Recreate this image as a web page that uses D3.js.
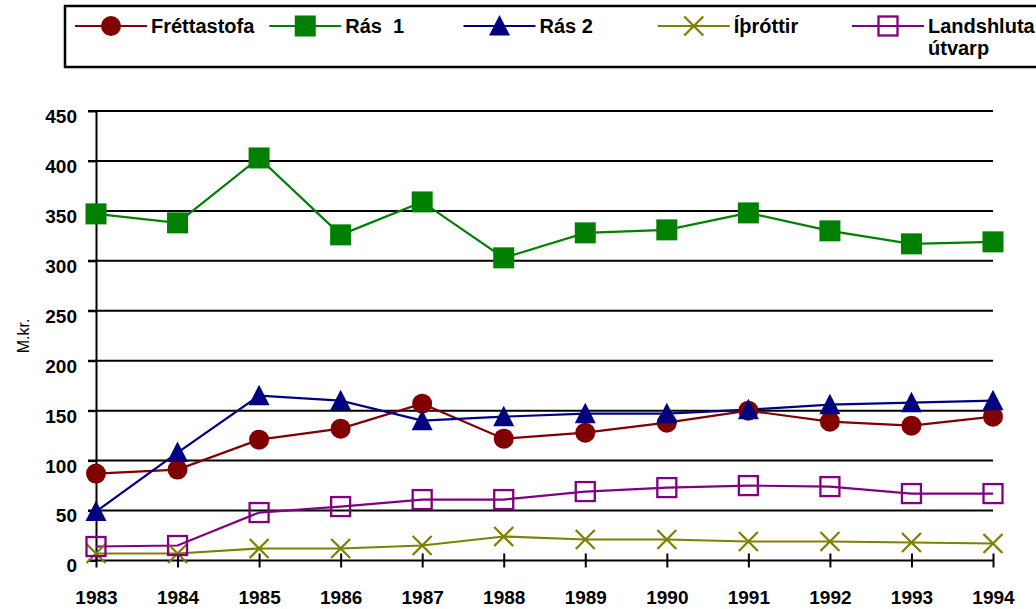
<!DOCTYPE html>
<html>
<head>
<meta charset="utf-8">
<script src="https://cdn.jsdelivr.net/npm/d3@7"></script>
<style>
  body { margin: 0; background: #fff; }
  svg { display: block; font-family: "Liberation Sans", Arial, Helvetica, sans-serif; }
</style>
</head>
<body>
<svg id="chart" width="1036" height="609"></svg>
<script>
// data (million kr.)
const years = [1983, 1984, 1985, 1986, 1987, 1988, 1989, 1990, 1991, 1992, 1993, 1994];
const frettastofa = [87, 91, 121, 132, 157, 122, 128, 138, 150, 139, 135, 144];
const ras1 = [347, 338, 403, 326, 359, 303, 328, 331, 348, 330, 317, 319];
const ras2 = [49, 108, 165, 160, 140, 144, 147, 147, 151, 156, 158, 160];
const ithrottir = [7, 7, 12, 12, 15, 24, 21, 21, 19, 19, 18, 17];
const landshluta = [14, 15, 48, 54, 61, 61, 69, 73, 75, 74, 67, 67];
const seriesNames = ["Fréttastofa", "Rás  1", "Rás 2", "Íþróttir", "Landshluta\nútvarp"];
const yTicks = [0, 50, 100, 150, 200, 250, 300, 350, 400, 450];

const series = [
  { name: seriesNames[0], values: frettastofa, color: "#800000", marker: "circle" },
  { name: seriesNames[1], values: ras1, color: "#008000", marker: "square" },
  { name: seriesNames[2], values: ras2, color: "#000080", marker: "triangle" },
  { name: seriesNames[3], values: ithrottir, color: "#808000", marker: "cross" },
  { name: seriesNames[4], values: landshluta, color: "#800080", marker: "openSquare" }
];

const svg = d3.select("#chart");

const x = d3.scalePoint().domain(years).range([96, 993]);
const y = d3.scaleLinear().domain([0, 450]).range([560.5, 111]);

// draws one marker shape into a group centred at 0,0
function drawMarker(g, type, color) {
  if (type === "circle") {
    g.append("circle").attr("r", 10).attr("fill", color);
  } else if (type === "square") {
    g.append("rect").attr("x", -10.5).attr("y", -10.5).attr("width", 21).attr("height", 21).attr("fill", color);
  } else if (type === "triangle") {
    g.append("path").attr("d", "M0,-11L10.5,9.5L-10.5,9.5Z").attr("fill", color);
  } else if (type === "cross") {
    g.append("path").attr("d", "M-9.5,-9.5L9.5,9.5M-9.5,9.5L9.5,-9.5")
      .attr("stroke", color).attr("stroke-width", 2.3).attr("fill", "none");
  } else if (type === "openSquare") {
    g.append("rect").attr("x", -9.5).attr("y", -9.5).attr("width", 19).attr("height", 19)
      .attr("fill", "none").attr("stroke", color).attr("stroke-width", 2.3);
  }
}

// gridlines
svg.append("g")
  .selectAll("line")
  .data(yTicks)
  .join("line")
  .attr("x1", 88)
  .attr("x2", x(years[years.length - 1]))
  .attr("y1", d => y(d))
  .attr("y2", d => y(d))
  .attr("stroke", "#000")
  .attr("stroke-width", 2);

// y axis
const yAxis = svg.append("g")
  .attr("transform", `translate(${x(years[0])},0)`)
  .call(d3.axisLeft(y).tickValues(yTicks).tickSize(8).tickSizeOuter(0).tickPadding(11));
yAxis.select(".domain").attr("stroke", "#000").attr("stroke-width", 2);
yAxis.selectAll(".tick line").attr("stroke-width", 2);
yAxis.selectAll(".tick text")
  .attr("dy", "0.6em")
  .attr("fill", "#000")
  .style("font-size", "19px")
  .style("font-weight", "bold")
  .style("font-family", "'Liberation Sans', Arial, sans-serif");

// x axis
const xAxis = svg.append("g")
  .attr("transform", `translate(0,${y(0)})`)
  .call(d3.axisBottom(x).tickSize(7).tickSizeOuter(0).tickPadding(23));
xAxis.select(".domain").remove();
xAxis.selectAll(".tick line").attr("y1", -7).attr("stroke-width", 2);
xAxis.selectAll(".tick text")
  .attr("fill", "#000")
  .style("font-size", "19px")
  .style("font-weight", "bold")
  .style("font-family", "'Liberation Sans', Arial, sans-serif");

// y axis title
svg.append("text")
  .attr("transform", "translate(29,336) rotate(-90)")
  .attr("text-anchor", "middle")
  .style("font-size", "16px")
  .text("M.kr.");

// series lines
const line = d3.line().x((d, i) => x(years[i])).y(d => y(d));
series.forEach(s => {
  svg.append("path")
    .datum(s.values)
    .attr("d", line)
    .attr("fill", "none")
    .attr("stroke", s.color)
    .attr("stroke-width", 2.2);
});

// series markers
series.forEach(s => {
  svg.append("g")
    .selectAll("g")
    .data(s.values)
    .join("g")
    .attr("transform", (d, i) => `translate(${x(years[i])},${y(d)})`)
    .each(function () { drawMarker(d3.select(this), s.marker, s.color); });
});

// legend
const legend = svg.append("g");
legend.append("rect")
  .attr("x", 65).attr("y", 6)
  .attr("width", 1000).attr("height", 61)
  .attr("fill", "none").attr("stroke", "#000").attr("stroke-width", 2.5);

const legendX = d3.scaleLinear().domain([0, 4]).range([75, 852]);
series.forEach((s, i) => {
  const g = legend.append("g").attr("transform", `translate(${legendX(i)},26)`);
  g.append("line").attr("x1", 0).attr("x2", 72).attr("stroke", s.color).attr("stroke-width", 2);
  drawMarker(g.append("g").attr("transform", "translate(36,0)"), s.marker, s.color);
  const t = g.append("text")
    .attr("x", 76).attr("y", 7)
    .style("font-size", "20px")
    .style("font-weight", "bold")
    .style("white-space", "pre");
  s.name.split("\n").forEach((part, k) => {
    t.append("tspan").attr("x", 76).attr("dy", k === 0 ? 0 : 22).text(part);
  });
});
</script>
</body>
</html>
